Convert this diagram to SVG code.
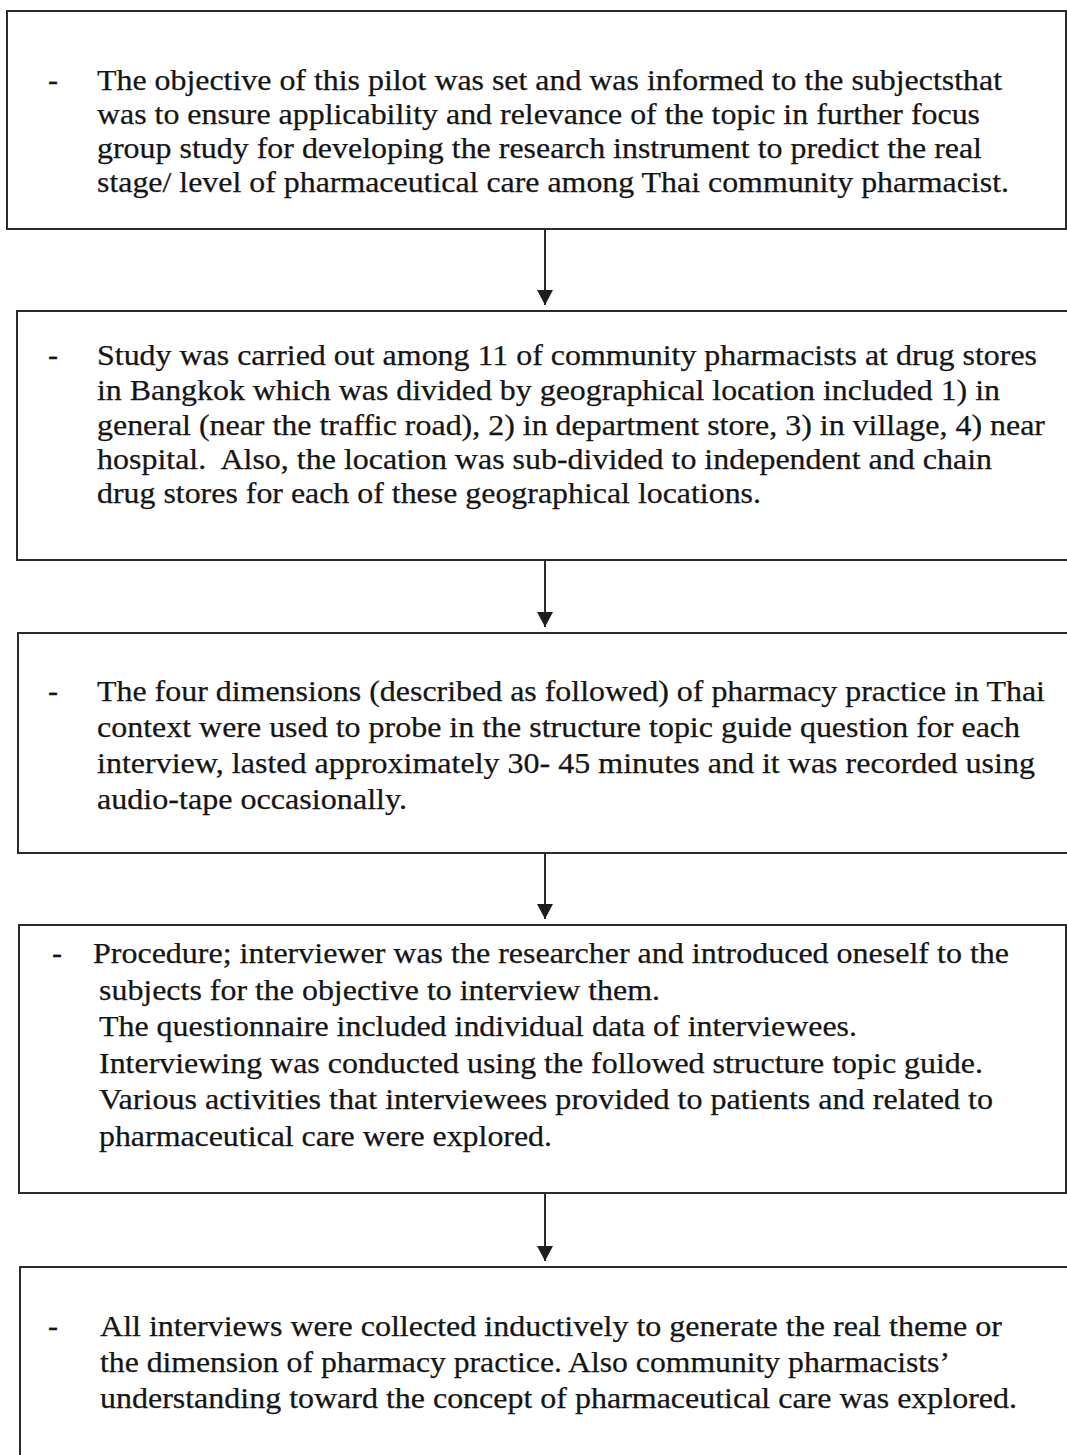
<svg xmlns="http://www.w3.org/2000/svg" width="1067" height="1455" viewBox="0 0 1067 1455">
<style>
.box{fill:none;stroke:#2b2b2b;stroke-width:2}
.t{font-size:30px;fill:#151515;stroke:#151515;stroke-width:0.25;white-space:pre}
.conn{stroke:#2b2b2b;stroke-width:2;fill:none}
</style>
<defs>
<marker id="ah" markerUnits="userSpaceOnUse" markerWidth="16" markerHeight="16" viewBox="0 0 16 16" refX="15" refY="8" orient="auto">
<path d="M0,0 L15,8 L0,16 Z" fill="#1e1e1e"/>
</marker>
</defs>
<rect width="1067" height="1455" fill="#ffffff"/>
<g id="connectors">
<line class="conn" x1="545" y1="230" x2="545" y2="305" marker-end="url(#ah)"/>
<line class="conn" x1="545" y1="561" x2="545" y2="627" marker-end="url(#ah)"/>
<line class="conn" x1="545" y1="854" x2="545" y2="919" marker-end="url(#ah)"/>
<line class="conn" x1="545" y1="1194" x2="545" y2="1261" marker-end="url(#ah)"/>
</g>
<g font-family="Liberation Serif, Times New Roman, serif">
<g id="node1">
<rect class="box" x="7" y="11" width="1059" height="218"/>
<text class="t" x="48" y="90">-</text>
<text class="t" x="97" y="90" textLength="905" lengthAdjust="spacingAndGlyphs">The objective of this pilot was set and was informed to the subjectsthat</text>
<text class="t" x="97" y="124" textLength="883" lengthAdjust="spacingAndGlyphs">was to ensure applicability and relevance of the topic in further focus</text>
<text class="t" x="97" y="158" textLength="885" lengthAdjust="spacingAndGlyphs">group study for developing the research instrument to predict the real</text>
<text class="t" x="97" y="192" textLength="912" lengthAdjust="spacingAndGlyphs">stage/ level of pharmaceutical care among Thai community pharmacist.</text>
</g>
<g id="node2">
<rect class="box" x="17" y="311" width="1060" height="249"/>
<text class="t" x="48" y="365">-</text>
<text class="t" x="97" y="365" textLength="940" lengthAdjust="spacingAndGlyphs">Study was carried out among 11 of community pharmacists at drug stores</text>
<text class="t" x="97" y="400" textLength="903" lengthAdjust="spacingAndGlyphs">in Bangkok which was divided by geographical location included 1) in</text>
<text class="t" x="97" y="435" textLength="948" lengthAdjust="spacingAndGlyphs">general (near the traffic road), 2) in department store, 3) in village, 4) near</text>
<text class="t" x="97" y="469" textLength="895" lengthAdjust="spacingAndGlyphs">hospital.  Also, the location was sub-divided to independent and chain</text>
<text class="t" x="97" y="503" textLength="664" lengthAdjust="spacingAndGlyphs">drug stores for each of these geographical locations.</text>
</g>
<g id="node3">
<rect class="box" x="18" y="633" width="1059" height="220"/>
<text class="t" x="48" y="701">-</text>
<text class="t" x="97" y="701" textLength="948" lengthAdjust="spacingAndGlyphs">The four dimensions (described as followed) of pharmacy practice in Thai</text>
<text class="t" x="97" y="737" textLength="923" lengthAdjust="spacingAndGlyphs">context were used to probe in the structure topic guide question for each</text>
<text class="t" x="97" y="773" textLength="938" lengthAdjust="spacingAndGlyphs">interview, lasted approximately 30- 45 minutes and it was recorded using</text>
<text class="t" x="97" y="809" textLength="310" lengthAdjust="spacingAndGlyphs">audio-tape occasionally.</text>
</g>
<g id="node4">
<rect class="box" x="19" y="925" width="1047" height="268"/>
<text class="t" x="52" y="963">-</text>
<text class="t" x="93" y="963" textLength="916" lengthAdjust="spacingAndGlyphs">Procedure; interviewer was the researcher and introduced oneself to the</text>
<text class="t" x="99" y="1000" textLength="561" lengthAdjust="spacingAndGlyphs">subjects for the objective to interview them.</text>
<text class="t" x="99" y="1036" textLength="758" lengthAdjust="spacingAndGlyphs">The questionnaire included individual data of interviewees.</text>
<text class="t" x="99" y="1073" textLength="884" lengthAdjust="spacingAndGlyphs">Interviewing was conducted using the followed structure topic guide.</text>
<text class="t" x="99" y="1109" textLength="894" lengthAdjust="spacingAndGlyphs">Various activities that interviewees provided to patients and related to</text>
<text class="t" x="99" y="1146" textLength="453" lengthAdjust="spacingAndGlyphs">pharmaceutical care were explored.</text>
</g>
<g id="node5">
<rect class="box" x="20" y="1267" width="1057" height="220"/>
<text class="t" x="48" y="1336">-</text>
<text class="t" x="100" y="1336" textLength="902" lengthAdjust="spacingAndGlyphs">All interviews were collected inductively to generate the real theme or</text>
<text class="t" x="100" y="1372" textLength="850" lengthAdjust="spacingAndGlyphs">the dimension of pharmacy practice. Also community pharmacists’</text>
<text class="t" x="100" y="1408" textLength="917" lengthAdjust="spacingAndGlyphs">understanding toward the concept of pharmaceutical care was explored.</text>
</g>
</g>
</svg>
